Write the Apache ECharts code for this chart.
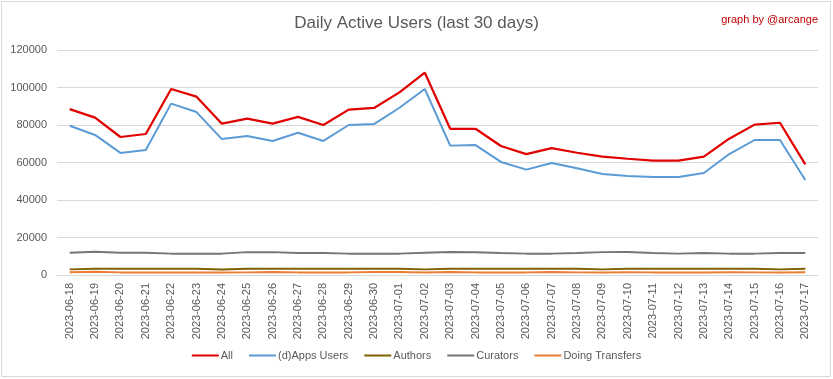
<!DOCTYPE html>
<html>
<head>
<meta charset="utf-8">
<script src="https://cdn.jsdelivr.net/npm/echarts@6/dist/echarts.min.js"></script>
<style>
html,body{margin:0;padding:0;background:#fff;}
#c{width:833px;height:379px;}
</style>
</head>
<body>
<div id="c"></div>
<script>
const dates = ["2023-06-18","2023-06-19","2023-06-20","2023-06-21","2023-06-22","2023-06-23","2023-06-24","2023-06-25","2023-06-26","2023-06-27","2023-06-28","2023-06-29","2023-06-30","2023-07-01","2023-07-02","2023-07-03","2023-07-04","2023-07-05","2023-07-06","2023-07-07","2023-07-08","2023-07-09","2023-07-10","2023-07-11","2023-07-12","2023-07-13","2023-07-14","2023-07-15","2023-07-16","2023-07-17"];
const allUsers = [88500,83900,73600,75200,99200,95100,80700,83400,80700,84300,80000,88200,89100,97400,107900,78000,78000,68800,64500,67700,65200,63100,62000,61000,61000,63100,72700,80200,81200,59000];
const appsUsers = [79600,74700,65100,66700,91400,86900,72500,74100,71500,75900,71500,80000,80500,89200,99200,69000,69300,60300,56200,59700,56900,53900,52800,52300,52300,54400,64500,72000,72000,50700];
const authors = [3000,3300,3300,3300,3300,3300,2900,3300,3300,3300,3300,3300,3300,3300,3000,3300,3300,3300,3300,3300,3300,3000,3300,3300,3300,3300,3300,3300,3000,3300];
const curators = [11900,12400,11900,11900,11400,11400,11400,12200,12200,11700,11700,11400,11400,11400,11900,12300,12100,11700,11400,11400,11700,12200,12300,11700,11400,11700,11400,11400,11700,11700];
const transfers = [1500,1700,1400,1400,1400,1400,1300,1400,1600,1400,1400,1400,1600,1600,1300,1600,1400,1400,1400,1600,1400,1300,1500,1400,1400,1300,1500,1400,1300,1500];
const yTicks = [0,20000,40000,60000,80000,100000,120000];

const FONT = '"Liberation Sans", "DejaVu Sans", sans-serif';
const chart = echarts.init(document.getElementById('c'));
function mk(name, data, color, width){
  return {name:name,type:'line',data:data,symbol:'none',smooth:false,
    lineStyle:{color:color,width:width},itemStyle:{color:color},animation:false};
}
chart.setOption({
  animation:false,
  backgroundColor:'#fff',
  title:[
    {text:'Daily Active Users (last 30 days)',left:'center',top:10,
     textStyle:{fontFamily:FONT,fontSize:17,fontWeight:'normal',color:'#595959'}},
    {text:'graph by @arcange',right:10,top:9,
     textStyle:{fontFamily:FONT,fontSize:11,fontWeight:'normal',color:'#c00000'}}
  ],
  graphic:[{type:'rect',shape:{x:1.5,y:1.5,width:829,height:375},style:{fill:'none',stroke:'#d9d9d9',lineWidth:1},silent:true}],
  grid:{left:57,right:15,top:50,bottom:104,containLabel:false},
  legend:{bottom:13,left:'center',itemWidth:27,itemHeight:2,itemGap:16,
    icon:'rect',textStyle:{fontFamily:FONT,fontSize:11,color:'#595959',padding:[0,0,0,-3]},
    data:['All','(d)Apps Users','Authors','Curators','Doing Transfers']},
  xAxis:{type:'category',data:dates,boundaryGap:true,
    axisLine:{lineStyle:{color:'#d9d9d9'}},axisTick:{show:false},
    axisLabel:{rotate:90,fontFamily:FONT,fontSize:11,color:'#595959',margin:8,interval:0}},
  yAxis:{type:'value',min:0,max:120000,interval:20000,
    axisLine:{show:false},axisTick:{show:false},
    splitLine:{lineStyle:{color:'#d9d9d9',width:1}},
    axisLabel:{fontFamily:FONT,fontSize:11,color:'#595959',margin:10,
      formatter:function(v){return yTicks.indexOf(v)>=0?String(v):'';}}},
  series:[
    mk('Doing Transfers',transfers,'#ed7d31',2),
    mk('Authors',authors,'#7f6000',2),
    mk('Curators',curators,'#767676',2),
    mk('(d)Apps Users',appsUsers,'#5b9bd5',2),
    mk('All',allUsers,'#e00000',2.25)
  ]
});
</script>
</body>
</html>
